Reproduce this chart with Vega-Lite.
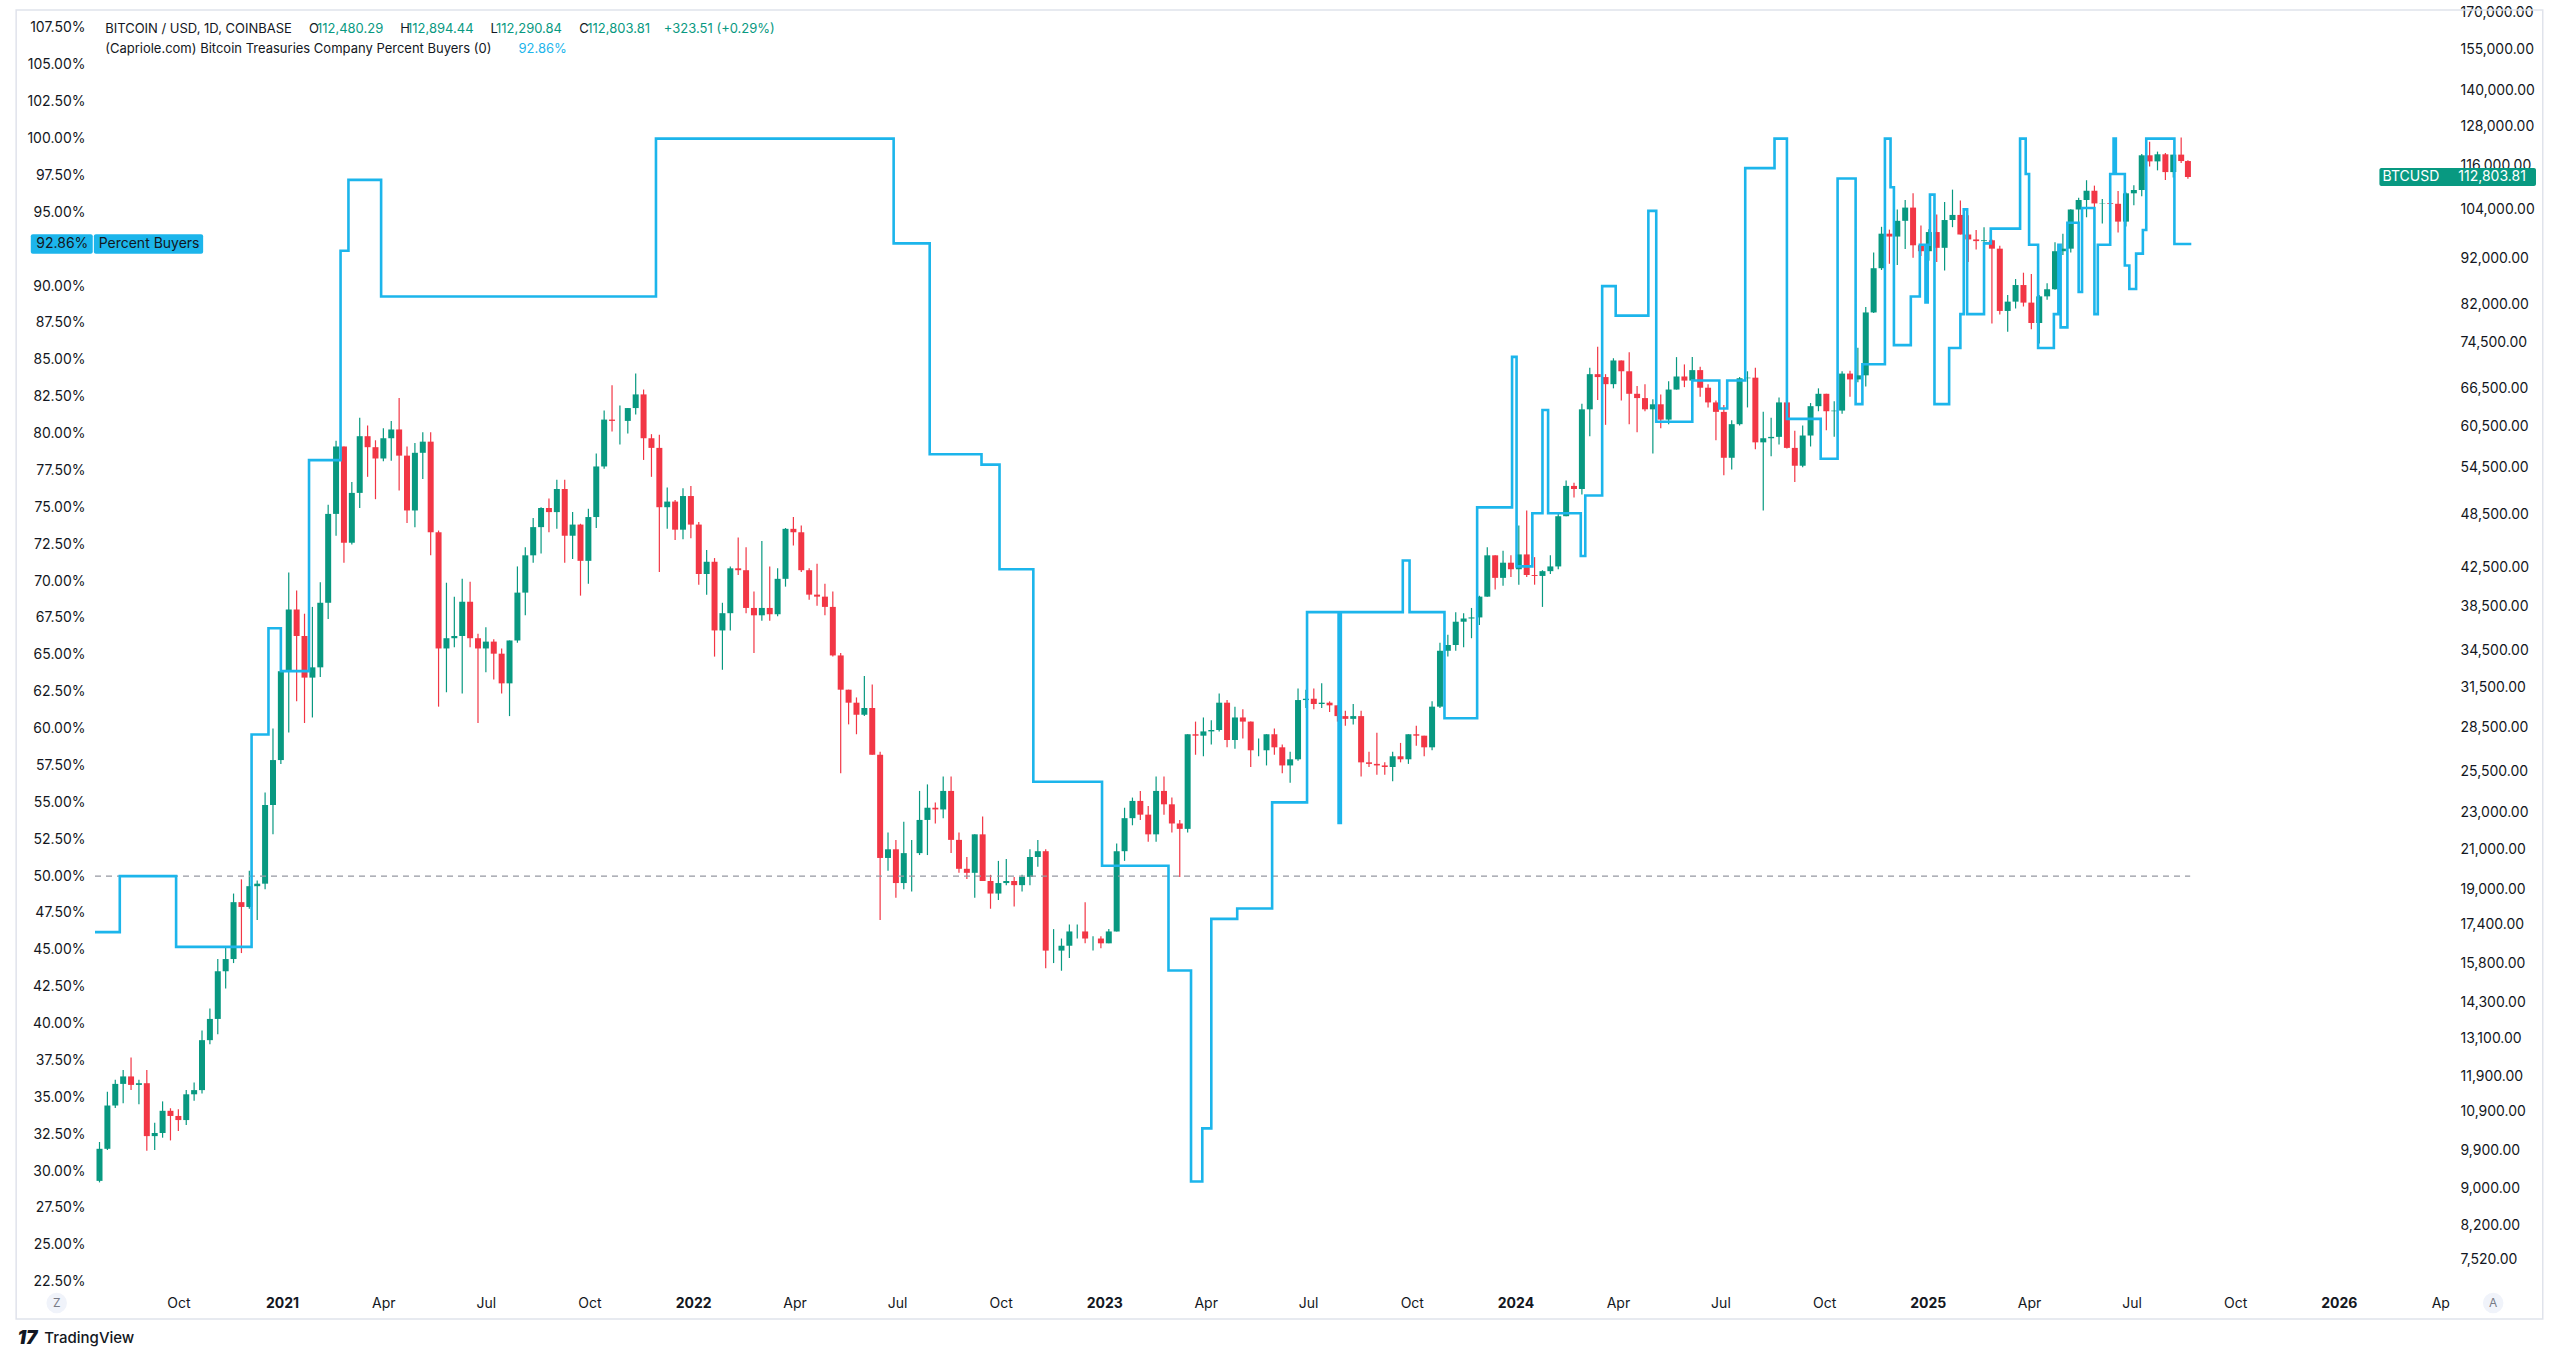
{
  "$schema": "https://vega.github.io/schema/vega-lite/v6.json",
  "width": 2362,
  "height": 1280,
  "autosize": "none",
  "padding": {"left": 90, "top": 10, "right": 108, "bottom": 68},
  "background": "#ffffff",
  "config": {
    "font": "Inter",
    "view": {"stroke": null},
    "axis": {"grid": false, "domain": false, "ticks": false, "tickSize": 0, "labelFont": "Inter", "labelFontSize": 14, "labelColor": "#131722", "title": null}
  },
  "datasets": {
    "btc": [
      {"d":"2020-07-23","o":9165,"h":10100,"l":9130,"c":9930},
      {"d":"2020-07-30","o":9930,"h":11450,"l":9900,"c":11065},
      {"d":"2020-08-06","o":11065,"h":11800,"l":11000,"c":11680},
      {"d":"2020-08-13","o":11680,"h":12090,"l":11130,"c":11900},
      {"d":"2020-08-20","o":11900,"h":12480,"l":11500,"c":11650},
      {"d":"2020-08-27","o":11650,"h":11800,"l":11100,"c":11700},
      {"d":"2020-09-03","o":11700,"h":12090,"l":9880,"c":10250},
      {"d":"2020-09-10","o":10250,"h":10600,"l":9900,"c":10330},
      {"d":"2020-09-17","o":10330,"h":11180,"l":10210,"c":10920},
      {"d":"2020-09-24","o":10920,"h":10990,"l":10140,"c":10780},
      {"d":"2020-10-01","o":10780,"h":10960,"l":10380,"c":10670},
      {"d":"2020-10-08","o":10670,"h":11500,"l":10540,"c":11380},
      {"d":"2020-10-15","o":11380,"h":11720,"l":11200,"c":11500},
      {"d":"2020-10-22","o":11500,"h":13350,"l":11400,"c":13030},
      {"d":"2020-10-29","o":13030,"h":14100,"l":12900,"c":13740},
      {"d":"2020-11-05","o":13740,"h":15960,"l":13220,"c":15480},
      {"d":"2020-11-12","o":15480,"h":16480,"l":14830,"c":15960},
      {"d":"2020-11-19","o":15960,"h":18800,"l":15800,"c":18400},
      {"d":"2020-11-26","o":18400,"h":19480,"l":16200,"c":18180},
      {"d":"2020-12-03","o":18180,"h":19900,"l":18100,"c":19150},
      {"d":"2020-12-10","o":19150,"h":19420,"l":17600,"c":19270},
      {"d":"2020-12-17","o":19270,"h":24200,"l":19000,"c":23460},
      {"d":"2020-12-24","o":23460,"h":28400,"l":21800,"c":26250},
      {"d":"2020-12-31","o":26250,"h":34800,"l":26000,"c":32780},
      {"d":"2021-01-07","o":32780,"h":41950,"l":28130,"c":38250},
      {"d":"2021-01-14","o":38250,"h":40100,"l":30400,"c":35800},
      {"d":"2021-01-21","o":35800,"h":37850,"l":28800,"c":32260},
      {"d":"2021-01-28","o":32260,"h":38500,"l":29200,"c":33100},
      {"d":"2021-02-04","o":33100,"h":40950,"l":32300,"c":38900},
      {"d":"2021-02-11","o":38900,"h":49700,"l":37350,"c":48580},
      {"d":"2021-02-18","o":48580,"h":58350,"l":46000,"c":57500},
      {"d":"2021-02-25","o":57500,"h":57500,"l":43000,"c":45200},
      {"d":"2021-03-04","o":45200,"h":52600,"l":45000,"c":51200},
      {"d":"2021-03-11","o":51200,"h":61800,"l":49300,"c":59000},
      {"d":"2021-03-18","o":59000,"h":60600,"l":53300,"c":57400},
      {"d":"2021-03-25","o":57400,"h":58400,"l":50400,"c":55800},
      {"d":"2021-04-01","o":55800,"h":60200,"l":55400,"c":58700},
      {"d":"2021-04-08","o":58700,"h":61300,"l":55500,"c":60000},
      {"d":"2021-04-15","o":60000,"h":64900,"l":51500,"c":56200},
      {"d":"2021-04-22","o":56200,"h":57500,"l":47500,"c":49000},
      {"d":"2021-04-29","o":49000,"h":58000,"l":47000,"c":56600},
      {"d":"2021-05-06","o":56600,"h":59600,"l":53000,"c":58200},
      {"d":"2021-05-13","o":58200,"h":59600,"l":43800,"c":46400},
      {"d":"2021-05-20","o":46400,"h":46600,"l":30000,"c":34700},
      {"d":"2021-05-27","o":34700,"h":40900,"l":31100,"c":35600},
      {"d":"2021-06-03","o":35600,"h":39500,"l":34800,"c":35800},
      {"d":"2021-06-10","o":35800,"h":41300,"l":31000,"c":39000},
      {"d":"2021-06-17","o":39000,"h":41000,"l":34800,"c":35600},
      {"d":"2021-06-24","o":35600,"h":36000,"l":28800,"c":34700},
      {"d":"2021-07-01","o":34700,"h":36600,"l":32700,"c":35300},
      {"d":"2021-07-08","o":35300,"h":35500,"l":32100,"c":34250},
      {"d":"2021-07-15","o":34250,"h":34700,"l":31000,"c":31800},
      {"d":"2021-07-22","o":31800,"h":35400,"l":29300,"c":35400},
      {"d":"2021-07-29","o":35400,"h":42600,"l":35200,"c":39900},
      {"d":"2021-08-05","o":39900,"h":44700,"l":37700,"c":43800},
      {"d":"2021-08-12","o":43800,"h":48100,"l":43000,"c":47000},
      {"d":"2021-08-19","o":47000,"h":49400,"l":44000,"c":49300},
      {"d":"2021-08-26","o":49300,"h":50500,"l":46400,"c":48800},
      {"d":"2021-09-02","o":48800,"h":52900,"l":46800,"c":51700},
      {"d":"2021-09-09","o":51700,"h":52900,"l":43000,"c":46000},
      {"d":"2021-09-16","o":46000,"h":48800,"l":43400,"c":47300},
      {"d":"2021-09-23","o":47300,"h":47400,"l":39600,"c":43200},
      {"d":"2021-09-30","o":43200,"h":49200,"l":40800,"c":48200},
      {"d":"2021-10-07","o":48200,"h":56500,"l":46900,"c":54700},
      {"d":"2021-10-14","o":54700,"h":62900,"l":54400,"c":61500},
      {"d":"2021-10-21","o":61500,"h":67000,"l":59700,"c":61300},
      {"d":"2021-10-28","o":61300,"h":63700,"l":57800,"c":61300},
      {"d":"2021-11-04","o":61300,"h":63300,"l":59400,"c":63300},
      {"d":"2021-11-11","o":63300,"h":69000,"l":62300,"c":65500},
      {"d":"2021-11-18","o":65500,"h":66300,"l":55600,"c":58700},
      {"d":"2021-11-25","o":58700,"h":59300,"l":53300,"c":57300},
      {"d":"2021-12-02","o":57300,"h":59200,"l":42000,"c":49400},
      {"d":"2021-12-09","o":49400,"h":51900,"l":46800,"c":50100},
      {"d":"2021-12-16","o":50100,"h":50300,"l":45500,"c":46700},
      {"d":"2021-12-23","o":46700,"h":51800,"l":45600,"c":50800},
      {"d":"2021-12-30","o":50800,"h":52100,"l":45700,"c":47300},
      {"d":"2022-01-06","o":47300,"h":47600,"l":40700,"c":41800},
      {"d":"2022-01-13","o":41800,"h":44400,"l":39700,"c":43100},
      {"d":"2022-01-20","o":43100,"h":43500,"l":34000,"c":36300},
      {"d":"2022-01-27","o":36300,"h":38900,"l":32900,"c":37900},
      {"d":"2022-02-03","o":37900,"h":42600,"l":36300,"c":42400},
      {"d":"2022-02-10","o":42400,"h":45800,"l":41700,"c":42200},
      {"d":"2022-02-17","o":42200,"h":44700,"l":37900,"c":38400},
      {"d":"2022-02-24","o":38400,"h":40000,"l":34300,"c":37700},
      {"d":"2022-03-03","o":37700,"h":45400,"l":37200,"c":38400},
      {"d":"2022-03-10","o":38400,"h":42600,"l":37200,"c":37800},
      {"d":"2022-03-17","o":37800,"h":42400,"l":37600,"c":41300},
      {"d":"2022-03-24","o":41300,"h":46900,"l":40500,"c":46800},
      {"d":"2022-03-31","o":46800,"h":48200,"l":44900,"c":46400},
      {"d":"2022-04-07","o":46400,"h":47200,"l":42000,"c":42200},
      {"d":"2022-04-14","o":42200,"h":42400,"l":39200,"c":39700},
      {"d":"2022-04-21","o":39700,"h":42900,"l":38600,"c":39500},
      {"d":"2022-04-28","o":39500,"h":40800,"l":37700,"c":38500},
      {"d":"2022-05-05","o":38500,"h":40000,"l":34000,"c":34100},
      {"d":"2022-05-12","o":34100,"h":34300,"l":25400,"c":31300},
      {"d":"2022-05-19","o":31300,"h":31300,"l":28700,"c":30300},
      {"d":"2022-05-26","o":30300,"h":30700,"l":28000,"c":29400},
      {"d":"2022-06-02","o":29400,"h":32400,"l":29300,"c":29900},
      {"d":"2022-06-09","o":29900,"h":31700,"l":26600,"c":26600},
      {"d":"2022-06-16","o":26600,"h":26800,"l":17600,"c":20550},
      {"d":"2022-06-23","o":20550,"h":21900,"l":19900,"c":21000},
      {"d":"2022-06-30","o":21000,"h":21500,"l":18600,"c":19300},
      {"d":"2022-07-07","o":19300,"h":22500,"l":19000,"c":20800},
      {"d":"2022-07-14","o":20800,"h":21500,"l":18900,"c":20800},
      {"d":"2022-07-21","o":20800,"h":24300,"l":20700,"c":22600},
      {"d":"2022-07-28","o":22600,"h":24700,"l":20700,"c":23300},
      {"d":"2022-08-04","o":23300,"h":23600,"l":22400,"c":23200},
      {"d":"2022-08-11","o":23200,"h":25200,"l":22700,"c":24300},
      {"d":"2022-08-18","o":24300,"h":25200,"l":20800,"c":21500},
      {"d":"2022-08-25","o":21500,"h":21900,"l":19800,"c":20000},
      {"d":"2022-09-01","o":20000,"h":20600,"l":19500,"c":19800},
      {"d":"2022-09-08","o":19800,"h":21800,"l":18600,"c":21800},
      {"d":"2022-09-15","o":21800,"h":22800,"l":19400,"c":19400},
      {"d":"2022-09-22","o":19400,"h":19700,"l":18100,"c":18800},
      {"d":"2022-09-29","o":18800,"h":20400,"l":18500,"c":19300},
      {"d":"2022-10-06","o":19300,"h":20500,"l":19200,"c":19400},
      {"d":"2022-10-13","o":19400,"h":19600,"l":18200,"c":19200},
      {"d":"2022-10-20","o":19200,"h":19700,"l":18900,"c":19600},
      {"d":"2022-10-27","o":19600,"h":21000,"l":19200,"c":20600},
      {"d":"2022-11-03","o":20600,"h":21500,"l":20100,"c":20900},
      {"d":"2022-11-10","o":20900,"h":21000,"l":15600,"c":16300},
      {"d":"2022-11-17","o":16300,"h":17200,"l":15800,"c":16300},
      {"d":"2022-11-24","o":16300,"h":16800,"l":15500,"c":16500},
      {"d":"2022-12-01","o":16500,"h":17400,"l":16000,"c":17100},
      {"d":"2022-12-08","o":17100,"h":17400,"l":16800,"c":17100},
      {"d":"2022-12-15","o":17100,"h":18400,"l":16600,"c":16800},
      {"d":"2022-12-22","o":16800,"h":16900,"l":16300,"c":16800},
      {"d":"2022-12-29","o":16800,"h":16900,"l":16400,"c":16600},
      {"d":"2023-01-05","o":16600,"h":17200,"l":16600,"c":17100},
      {"d":"2023-01-12","o":17100,"h":21300,"l":17100,"c":20900},
      {"d":"2023-01-19","o":20900,"h":23300,"l":20400,"c":22700},
      {"d":"2023-01-26","o":22700,"h":23900,"l":22300,"c":23700},
      {"d":"2023-02-02","o":23700,"h":24300,"l":22600,"c":22900},
      {"d":"2023-02-09","o":22900,"h":23400,"l":21400,"c":21800},
      {"d":"2023-02-16","o":21800,"h":25200,"l":21400,"c":24300},
      {"d":"2023-02-23","o":24300,"h":25200,"l":22900,"c":23500},
      {"d":"2023-03-02","o":23500,"h":23900,"l":21900,"c":22400},
      {"d":"2023-03-09","o":22400,"h":22600,"l":19600,"c":22100},
      {"d":"2023-03-16","o":22100,"h":28000,"l":21900,"c":28000},
      {"d":"2023-03-23","o":28000,"h":28900,"l":26600,"c":27900},
      {"d":"2023-03-30","o":27900,"h":29200,"l":26500,"c":28200},
      {"d":"2023-04-06","o":28200,"h":29000,"l":27300,"c":28300},
      {"d":"2023-04-13","o":28300,"h":31000,"l":28200,"c":30300},
      {"d":"2023-04-20","o":30300,"h":30500,"l":27100,"c":27600},
      {"d":"2023-04-27","o":27600,"h":30000,"l":27000,"c":29200},
      {"d":"2023-05-04","o":29200,"h":29800,"l":27700,"c":28900},
      {"d":"2023-05-11","o":28900,"h":28900,"l":25800,"c":26900},
      {"d":"2023-05-18","o":26900,"h":27700,"l":26500,"c":26900},
      {"d":"2023-05-25","o":26900,"h":28000,"l":25900,"c":28000},
      {"d":"2023-06-01","o":28000,"h":28400,"l":26600,"c":27100},
      {"d":"2023-06-08","o":27100,"h":27300,"l":25400,"c":25900},
      {"d":"2023-06-15","o":25900,"h":26800,"l":24800,"c":26300},
      {"d":"2023-06-22","o":26300,"h":31400,"l":26200,"c":30500},
      {"d":"2023-06-29","o":30500,"h":31300,"l":29900,"c":30600},
      {"d":"2023-07-06","o":30600,"h":31400,"l":29800,"c":30200},
      {"d":"2023-07-13","o":30200,"h":31800,"l":29900,"c":30300},
      {"d":"2023-07-20","o":30300,"h":30400,"l":29600,"c":30100},
      {"d":"2023-07-27","o":30100,"h":30100,"l":28900,"c":29300},
      {"d":"2023-08-03","o":29300,"h":29700,"l":28600,"c":29100},
      {"d":"2023-08-10","o":29100,"h":30200,"l":28700,"c":29300},
      {"d":"2023-08-17","o":29300,"h":29700,"l":25200,"c":26100},
      {"d":"2023-08-24","o":26100,"h":26800,"l":25800,"c":26000},
      {"d":"2023-08-31","o":26000,"h":28100,"l":25300,"c":25900},
      {"d":"2023-09-07","o":25900,"h":26100,"l":25300,"c":25800},
      {"d":"2023-09-14","o":25800,"h":26800,"l":24900,"c":26500},
      {"d":"2023-09-21","o":26500,"h":27400,"l":26100,"c":26300},
      {"d":"2023-09-28","o":26300,"h":28000,"l":26000,"c":28000},
      {"d":"2023-10-05","o":28000,"h":28600,"l":27200,"c":27900},
      {"d":"2023-10-12","o":27900,"h":27900,"l":26500,"c":27100},
      {"d":"2023-10-19","o":27100,"h":30400,"l":26900,"c":30000},
      {"d":"2023-10-26","o":30000,"h":35200,"l":29900,"c":34500},
      {"d":"2023-11-02","o":34500,"h":35900,"l":34000,"c":35000},
      {"d":"2023-11-09","o":35000,"h":38000,"l":34500,"c":37100},
      {"d":"2023-11-16","o":37100,"h":37900,"l":34800,"c":37400},
      {"d":"2023-11-23","o":37400,"h":38400,"l":35600,"c":37500},
      {"d":"2023-11-30","o":37500,"h":39600,"l":36800,"c":39500},
      {"d":"2023-12-07","o":39500,"h":44700,"l":39500,"c":43800},
      {"d":"2023-12-14","o":43800,"h":43800,"l":40200,"c":41400},
      {"d":"2023-12-21","o":41400,"h":44300,"l":40600,"c":43000},
      {"d":"2023-12-28","o":43000,"h":43800,"l":41500,"c":42300},
      {"d":"2024-01-04","o":42300,"h":47200,"l":40700,"c":43900},
      {"d":"2024-01-11","o":43900,"h":49000,"l":41500,"c":41700},
      {"d":"2024-01-18","o":41700,"h":43600,"l":40700,"c":41600},
      {"d":"2024-01-25","o":41600,"h":42200,"l":38500,"c":42100},
      {"d":"2024-02-01","o":42100,"h":43800,"l":41800,"c":42600},
      {"d":"2024-02-08","o":42600,"h":48600,"l":42300,"c":48300},
      {"d":"2024-02-15","o":48300,"h":52800,"l":48300,"c":52100},
      {"d":"2024-02-22","o":52100,"h":52500,"l":50600,"c":51700},
      {"d":"2024-02-29","o":51700,"h":64000,"l":51000,"c":63100},
      {"d":"2024-03-07","o":63100,"h":70000,"l":59000,"c":68900},
      {"d":"2024-03-14","o":68900,"h":73800,"l":64600,"c":68400},
      {"d":"2024-03-21","o":68400,"h":68900,"l":60700,"c":67200},
      {"d":"2024-03-28","o":67200,"h":71700,"l":66500,"c":71300},
      {"d":"2024-04-04","o":71300,"h":71300,"l":64500,"c":69400},
      {"d":"2024-04-11","o":69400,"h":72800,"l":60800,"c":65600},
      {"d":"2024-04-18","o":65600,"h":66900,"l":59600,"c":64900},
      {"d":"2024-04-25","o":64900,"h":67200,"l":62800,"c":63100},
      {"d":"2024-05-02","o":63100,"h":64700,"l":56500,"c":63900},
      {"d":"2024-05-09","o":63900,"h":65500,"l":60200,"c":61500},
      {"d":"2024-05-16","o":61500,"h":67700,"l":60800,"c":66300},
      {"d":"2024-05-23","o":66300,"h":71900,"l":66300,"c":68500},
      {"d":"2024-05-30","o":68500,"h":70600,"l":66700,"c":67800},
      {"d":"2024-06-06","o":67800,"h":71900,"l":67600,"c":69600},
      {"d":"2024-06-13","o":69600,"h":70200,"l":65100,"c":66600},
      {"d":"2024-06-20","o":66600,"h":67200,"l":63400,"c":64200},
      {"d":"2024-06-27","o":64200,"h":64500,"l":58400,"c":62700},
      {"d":"2024-07-04","o":62700,"h":63800,"l":53500,"c":55900},
      {"d":"2024-07-11","o":55900,"h":61400,"l":54300,"c":60800},
      {"d":"2024-07-18","o":60800,"h":68400,"l":60600,"c":68200},
      {"d":"2024-07-25","o":68200,"h":69400,"l":63400,"c":68300},
      {"d":"2024-08-01","o":68300,"h":70000,"l":57100,"c":58100},
      {"d":"2024-08-08","o":58100,"h":62700,"l":49000,"c":58700},
      {"d":"2024-08-15","o":58700,"h":61800,"l":56100,"c":58900},
      {"d":"2024-08-22","o":58900,"h":65000,"l":57800,"c":64200},
      {"d":"2024-08-29","o":64200,"h":64500,"l":57200,"c":57300},
      {"d":"2024-09-05","o":57300,"h":59800,"l":52600,"c":54800},
      {"d":"2024-09-12","o":54800,"h":60600,"l":54600,"c":59100},
      {"d":"2024-09-19","o":59100,"h":64100,"l":57500,"c":63600},
      {"d":"2024-09-26","o":63600,"h":66500,"l":62800,"c":65600},
      {"d":"2024-10-03","o":65600,"h":65600,"l":59900,"c":62800},
      {"d":"2024-10-10","o":62800,"h":64400,"l":58900,"c":62900},
      {"d":"2024-10-17","o":62900,"h":69400,"l":62400,"c":69000},
      {"d":"2024-10-24","o":69000,"h":69500,"l":65100,"c":68000},
      {"d":"2024-10-31","o":68000,"h":73600,"l":67500,"c":68700},
      {"d":"2024-11-07","o":68700,"h":81500,"l":66800,"c":80400},
      {"d":"2024-11-14","o":80400,"h":93400,"l":80300,"c":89800},
      {"d":"2024-11-21","o":89800,"h":99600,"l":89400,"c":97900},
      {"d":"2024-11-28","o":97900,"h":98900,"l":90800,"c":97200},
      {"d":"2024-12-05","o":97200,"h":104000,"l":90500,"c":101100},
      {"d":"2024-12-12","o":101100,"h":106500,"l":94200,"c":104500},
      {"d":"2024-12-19","o":104500,"h":108300,"l":92200,"c":95100},
      {"d":"2024-12-26","o":95100,"h":99900,"l":92600,"c":93700},
      {"d":"2025-01-02","o":93700,"h":99000,"l":91500,"c":98300},
      {"d":"2025-01-09","o":98300,"h":102700,"l":91200,"c":94500},
      {"d":"2025-01-16","o":94500,"h":106000,"l":89300,"c":101300},
      {"d":"2025-01-23","o":101300,"h":109300,"l":99500,"c":102600},
      {"d":"2025-01-30","o":102600,"h":106400,"l":97700,"c":97700},
      {"d":"2025-02-06","o":97700,"h":102500,"l":91200,"c":96500},
      {"d":"2025-02-13","o":96500,"h":98800,"l":94100,"c":96100},
      {"d":"2025-02-20","o":96100,"h":99500,"l":94800,"c":96300},
      {"d":"2025-02-27","o":96300,"h":96500,"l":78200,"c":94300},
      {"d":"2025-03-06","o":94300,"h":95000,"l":80000,"c":80700},
      {"d":"2025-03-13","o":80700,"h":84000,"l":76600,"c":82600},
      {"d":"2025-03-20","o":82600,"h":87400,"l":81200,"c":86100},
      {"d":"2025-03-27","o":86100,"h":88800,"l":81600,"c":82400},
      {"d":"2025-04-03","o":82400,"h":88500,"l":77100,"c":78300},
      {"d":"2025-04-10","o":78300,"h":84000,"l":74400,"c":83700},
      {"d":"2025-04-17","o":83700,"h":86500,"l":83000,"c":85200},
      {"d":"2025-04-24","o":85200,"h":95800,"l":85100,"c":93700},
      {"d":"2025-05-01","o":93700,"h":97900,"l":92800,"c":94300},
      {"d":"2025-05-08","o":94300,"h":104100,"l":93400,"c":104000},
      {"d":"2025-05-15","o":104000,"h":107100,"l":100700,"c":106500},
      {"d":"2025-05-22","o":106500,"h":111900,"l":102000,"c":109000},
      {"d":"2025-05-29","o":109000,"h":110400,"l":103100,"c":105600},
      {"d":"2025-06-05","o":105600,"h":106800,"l":100400,"c":105700},
      {"d":"2025-06-12","o":105700,"h":110600,"l":102700,"c":105500},
      {"d":"2025-06-19","o":105500,"h":108900,"l":98200,"c":100900},
      {"d":"2025-06-26","o":100900,"h":108500,"l":99700,"c":108300},
      {"d":"2025-07-03","o":108300,"h":110500,"l":105100,"c":109200},
      {"d":"2025-07-10","o":109200,"h":119500,"l":107500,"c":119100},
      {"d":"2025-07-17","o":119100,"h":123200,"l":115800,"c":117300},
      {"d":"2025-07-24","o":117300,"h":120200,"l":114700,"c":119400},
      {"d":"2025-07-31","o":119400,"h":119800,"l":112000,"c":114200},
      {"d":"2025-08-07","o":114200,"h":119300,"l":112700,"c":119300},
      {"d":"2025-08-14","o":119300,"h":124500,"l":116800,"c":117400},
      {"d":"2025-08-20","o":117400,"h":117600,"l":112300,"c":112800}
    ],
    "buyers": [
      {"d":"2020-07-19","p":46.2},
      {"d":"2020-08-10","p":50.0},
      {"d":"2020-09-29","p":45.2},
      {"d":"2020-12-05","p":59.6},
      {"d":"2020-12-20","p":66.8},
      {"d":"2020-12-31","p":63.9},
      {"d":"2021-01-25","p":78.2},
      {"d":"2021-02-22","p":92.4},
      {"d":"2021-03-01","p":97.2},
      {"d":"2021-03-30","p":89.3},
      {"d":"2021-11-29","p":100.0},
      {"d":"2022-06-28","p":92.9},
      {"d":"2022-07-30","p":78.6},
      {"d":"2022-09-14","p":77.9},
      {"d":"2022-09-30","p":70.8},
      {"d":"2022-10-30","p":56.4},
      {"d":"2022-12-30","p":50.7},
      {"d":"2023-02-27","p":43.6},
      {"d":"2023-03-19","p":29.3},
      {"d":"2023-03-29","p":32.9},
      {"d":"2023-04-06","p":47.1},
      {"d":"2023-04-29","p":47.8},
      {"d":"2023-05-30","p":55.0},
      {"d":"2023-06-30","p":67.9},
      {"d":"2023-07-28","p":53.6},
      {"d":"2023-07-30","p":67.9},
      {"d":"2023-09-23","p":71.4},
      {"d":"2023-09-29","p":67.9},
      {"d":"2023-10-30","p":60.7},
      {"d":"2023-11-28","p":75.0},
      {"d":"2023-12-29","p":85.2},
      {"d":"2024-01-02","p":71.0},
      {"d":"2024-01-16","p":74.6},
      {"d":"2024-01-25","p":81.6},
      {"d":"2024-01-30","p":74.6},
      {"d":"2024-02-28","p":71.7},
      {"d":"2024-03-03","p":75.8},
      {"d":"2024-03-18","p":90.0},
      {"d":"2024-03-30","p":88.0},
      {"d":"2024-04-28","p":95.1},
      {"d":"2024-05-05","p":80.8},
      {"d":"2024-06-06","p":83.6},
      {"d":"2024-06-30","p":81.7},
      {"d":"2024-07-07","p":83.6},
      {"d":"2024-07-23","p":98.0},
      {"d":"2024-08-18","p":100.0},
      {"d":"2024-08-29","p":81.0},
      {"d":"2024-09-28","p":78.3},
      {"d":"2024-10-13","p":97.3},
      {"d":"2024-10-29","p":82.0},
      {"d":"2024-11-04","p":84.7},
      {"d":"2024-11-24","p":100.0},
      {"d":"2024-11-29","p":96.7},
      {"d":"2024-12-02","p":86.0},
      {"d":"2024-12-17","p":89.3},
      {"d":"2024-12-25","p":92.8},
      {"d":"2024-12-30","p":88.9},
      {"d":"2025-01-01","p":92.8},
      {"d":"2025-01-03","p":96.2},
      {"d":"2025-01-07","p":82.0},
      {"d":"2025-01-20","p":85.8},
      {"d":"2025-01-30","p":88.1},
      {"d":"2025-02-02","p":95.2},
      {"d":"2025-02-05","p":88.1},
      {"d":"2025-02-20","p":92.9},
      {"d":"2025-02-26","p":93.9},
      {"d":"2025-03-24","p":100.0},
      {"d":"2025-03-29","p":97.6},
      {"d":"2025-04-01","p":92.8},
      {"d":"2025-04-09","p":85.8},
      {"d":"2025-04-23","p":88.1},
      {"d":"2025-04-27","p":92.8},
      {"d":"2025-04-29","p":87.2},
      {"d":"2025-05-05","p":94.3},
      {"d":"2025-05-15","p":89.6},
      {"d":"2025-05-18","p":95.3},
      {"d":"2025-05-29","p":88.1},
      {"d":"2025-06-01","p":92.8},
      {"d":"2025-06-12","p":97.6},
      {"d":"2025-06-15","p":100.0},
      {"d":"2025-06-17","p":97.6},
      {"d":"2025-06-25","p":91.4},
      {"d":"2025-06-29","p":89.8},
      {"d":"2025-07-05","p":92.2},
      {"d":"2025-07-11","p":93.8},
      {"d":"2025-07-14","p":100.0},
      {"d":"2025-08-08","p":92.86},
      {"d":"2025-08-23","p":92.86}
    ],
    "header": [
      {"t":"BITCOIN / USD, 1D, COINBASE","d":"2020-07-28","p":107.41,"k":"label"},
      {"t":"O","d":"2021-01-25","p":107.41,"k":"label"},
      {"t":"112,480.29","d":"2021-02-01","p":107.41,"k":"price"},
      {"t":"H","d":"2021-04-16","p":107.41,"k":"label"},
      {"t":"112,894.44","d":"2021-04-22","p":107.41,"k":"price"},
      {"t":"L","d":"2021-07-05","p":107.41,"k":"label"},
      {"t":"112,290.84","d":"2021-07-10","p":107.41,"k":"price"},
      {"t":"C","d":"2021-09-22","p":107.41,"k":"label"},
      {"t":"112,803.81","d":"2021-09-29","p":107.41,"k":"price"},
      {"t":"+323.51 (+0.29%)","d":"2021-12-06","p":107.41,"k":"price"},
      {"t":"(Capriole.com) Bitcoin Treasuries Company Percent Buyers (0)","d":"2020-07-28","p":106.08,"k":"label"},
      {"t":"92.86%","d":"2021-07-30","p":106.08,"k":"indicator"}
    ]
  },
  "encoding": {
    "x": {
      "field": "d",
      "type": "temporal",
      "title": null,
      "scale": {
        "type": "utc",
        "nice": false,
        "domain": [{"year": 2020, "month": 7, "date": 19, "utc": true}, {"year": 2026, "month": 4, "date": 7, "utc": true}]
      },
      "axis": {
        "orient": "bottom",
        "values": [
          {"year": 2020, "month": 10, "date": 1, "utc": true},
          {"year": 2021, "month": 1, "date": 1, "utc": true},
          {"year": 2021, "month": 4, "date": 1, "utc": true},
          {"year": 2021, "month": 7, "date": 1, "utc": true},
          {"year": 2021, "month": 10, "date": 1, "utc": true},
          {"year": 2022, "month": 1, "date": 1, "utc": true},
          {"year": 2022, "month": 4, "date": 1, "utc": true},
          {"year": 2022, "month": 7, "date": 1, "utc": true},
          {"year": 2022, "month": 10, "date": 1, "utc": true},
          {"year": 2023, "month": 1, "date": 1, "utc": true},
          {"year": 2023, "month": 4, "date": 1, "utc": true},
          {"year": 2023, "month": 7, "date": 1, "utc": true},
          {"year": 2023, "month": 10, "date": 1, "utc": true},
          {"year": 2024, "month": 1, "date": 1, "utc": true},
          {"year": 2024, "month": 4, "date": 1, "utc": true},
          {"year": 2024, "month": 7, "date": 1, "utc": true},
          {"year": 2024, "month": 10, "date": 1, "utc": true},
          {"year": 2025, "month": 1, "date": 1, "utc": true},
          {"year": 2025, "month": 4, "date": 1, "utc": true},
          {"year": 2025, "month": 7, "date": 1, "utc": true},
          {"year": 2025, "month": 10, "date": 1, "utc": true},
          {"year": 2026, "month": 1, "date": 1, "utc": true},
          {"year": 2026, "month": 4, "date": 1, "utc": true}
        ],
        "labelExpr": "utcFormat(datum.value, '%m') == '01' ? utcFormat(datum.value, '%Y') : (utcFormat(datum.value, '%Y%m') == '202604' ? 'Ap' : utcFormat(datum.value, '%b'))",
        "labelFontWeight": {"condition": {"test": "utcFormat(datum.value, '%m') == '01'", "value": "bold"}, "value": "normal"},
        "labelPadding": 6,
        "labelOverlap": false,
        "labelFlush": false
      }
    }
  },
  "resolve": {"scale": {"y": "independent"}},
  "layer": [
    {
      "encoding": {
        "y": {
          "field": "l",
          "type": "quantitative",
          "title": null,
          "scale": {"type": "log", "domain": [6976, 171280], "nice": false, "zero": false},
          "axis": {
            "orient": "right",
            "values": [170000, 155000, 140000, 128000, 116000, 104000, 92000, 82000, 74500, 66500, 60500, 54500, 48500, 42500, 38500, 34500, 31500, 28500, 25500, 23000, 21000, 19000, 17400, 15800, 14300, 13100, 11900, 10900, 9900, 9000, 8200, 7520],
            "format": ",.2f",
            "labelPadding": 8,
            "labelOverlap": false
          }
        }
      },
      "layer": [
        {
          "data": {"name": "btc"},
          "mark": {"type": "rule", "strokeWidth": 1.2},
          "encoding": {
            "y2": {"field": "h"},
            "color": {"condition": {"test": "datum.c >= datum.o", "value": "#089981"}, "value": "#f23645"}
          }
        },
        {
          "data": {"name": "btc"},
          "mark": {"type": "bar", "size": 6},
          "encoding": {
            "y": {
              "field": "o",
              "type": "quantitative",
              "title": null,
              "scale": {"type": "log", "domain": [6976, 171280], "nice": false, "zero": false},
              "axis": {
                "orient": "right",
                "values": [170000, 155000, 140000, 128000, 116000, 104000, 92000, 82000, 74500, 66500, 60500, 54500, 48500, 42500, 38500, 34500, 31500, 28500, 25500, 23000, 21000, 19000, 17400, 15800, 14300, 13100, 11900, 10900, 9900, 9000, 8200, 7520],
                "format": ",.2f",
                "labelPadding": 8,
                "labelOverlap": false
              }
            },
            "y2": {"field": "c"},
            "color": {"condition": {"test": "datum.c >= datum.o", "value": "#089981"}, "value": "#f23645"}
          }
        },
        {
          "data": {"values": [{"d": "2026-02-06", "d2": "2026-06-25", "l": 110310, "hi": 115400}]},
          "mark": {"type": "rect", "color": "#089981", "cornerRadius": 2},
          "encoding": {
            "x2": {"field": "d2"},
            "y2": {"field": "hi"}
          }
        },
        {
          "data": {"values": [{"d": "2026-03-06", "l": 112803.81, "t": "BTCUSD"}, {"d": "2026-05-17", "l": 112803.81, "t": "112,803.81"}]},
          "mark": {"type": "text", "color": "#ffffff", "fontSize": 14, "align": "center", "baseline": "middle"},
          "encoding": {
            "text": {"field": "t"}
          }
        }
      ]
    },
    {
      "encoding": {
        "y": {
          "field": "p",
          "type": "quantitative",
          "title": null,
          "scale": {"domain": [21.94, 108.72], "nice": false, "zero": false},
          "axis": {
            "orient": "left",
            "values": [22.5, 25, 27.5, 30, 32.5, 35, 37.5, 40, 42.5, 45, 47.5, 50, 52.5, 55, 57.5, 60, 62.5, 65, 67.5, 70, 72.5, 75, 77.5, 80, 82.5, 85, 87.5, 90, 95, 97.5, 100, 102.5, 105, 107.5],
            "labelExpr": "format(datum.value, '.2f') + '%'",
            "labelPadding": 5,
            "labelOverlap": false
          }
        }
      },
      "layer": [
        {
          "data": {"values": [{"d": "2020-05-10", "d2": "2026-07-01", "p": 19.97, "p2": 108.72}]},
          "mark": {"type": "rect", "fill": null, "stroke": "#e0e3eb", "strokeWidth": 1.5},
          "encoding": {"x2": {"field": "d2"}, "y2": {"field": "p2"}}
        },
        {
          "data": {"values": [{"d": "2020-07-19", "d2": "2025-08-22", "p": 50}]},
          "mark": {"type": "rule", "color": "#9598a1", "strokeDash": [6, 5], "strokeWidth": 1.4},
          "encoding": {"x2": {"field": "d2"}}
        },
        {
          "data": {"name": "buyers"},
          "mark": {"type": "line", "interpolate": "step-after", "color": "#1cb5eb", "strokeWidth": 2.6},
          "encoding": {}
        },
        {
          "data": {"values": [{"d": "2020-05-23", "d2": "2020-07-17", "p": 92.2, "p2": 93.52}, {"d": "2020-07-18", "d2": "2020-10-23", "p": 92.2, "p2": 93.52}]},
          "mark": {"type": "rect", "color": "#1cb5eb", "cornerRadius": 2},
          "encoding": {"x2": {"field": "d2"}, "y2": {"field": "p2"}}
        },
        {
          "data": {"values": [{"d": "2020-06-20", "p": 92.86, "t": "92.86%"}, {"d": "2020-09-05", "p": 92.86, "t": "Percent Buyers"}]},
          "mark": {"type": "text", "color": "#131722", "fontSize": 14, "align": "center", "baseline": "middle"},
          "encoding": {"text": {"field": "t"}}
        },
        {
          "data": {"name": "header"},
          "mark": {"type": "text", "fontSize": 13, "align": "left", "baseline": "middle"},
          "encoding": {
            "text": {"field": "t"},
            "color": {"field": "k", "type": "nominal", "scale": {"domain": ["label", "price", "indicator"], "range": ["#131722", "#089981", "#1cb5eb"]}, "legend": null}
          }
        },
        {
          "data": {"values": [{"d": "2020-06-15", "p": 21.06, "t": "Z"}, {"d": "2026-05-18", "p": 21.06, "t": "A"}]},
          "mark": {"type": "point", "filled": true, "size": 420, "color": "#f0f3fa", "opacity": 1},
          "encoding": {}
        },
        {
          "data": {"values": [{"d": "2020-06-15", "p": 21.06, "t": "Z"}, {"d": "2026-05-18", "p": 21.06, "t": "A"}]},
          "mark": {"type": "text", "fontSize": 12, "color": "#787b86", "align": "center", "baseline": "middle"},
          "encoding": {"text": {"field": "t"}}
        },
        {
          "data": {"values": [{"d": "2020-05-20", "p": 18.69, "t": "17"}]},
          "mark": {"type": "text", "fontSize": 19, "fontWeight": 900, "fontStyle": "italic", "color": "#131722", "align": "center", "baseline": "middle"},
          "encoding": {"text": {"field": "t"}}
        },
        {
          "data": {"values": [{"d": "2020-06-04", "p": 18.69, "t": "TradingView"}]},
          "mark": {"type": "text", "fontSize": 15, "fontWeight": 500, "color": "#131722", "align": "left", "baseline": "middle"},
          "encoding": {"text": {"field": "t"}}
        }
      ]
    }
  ]
}
